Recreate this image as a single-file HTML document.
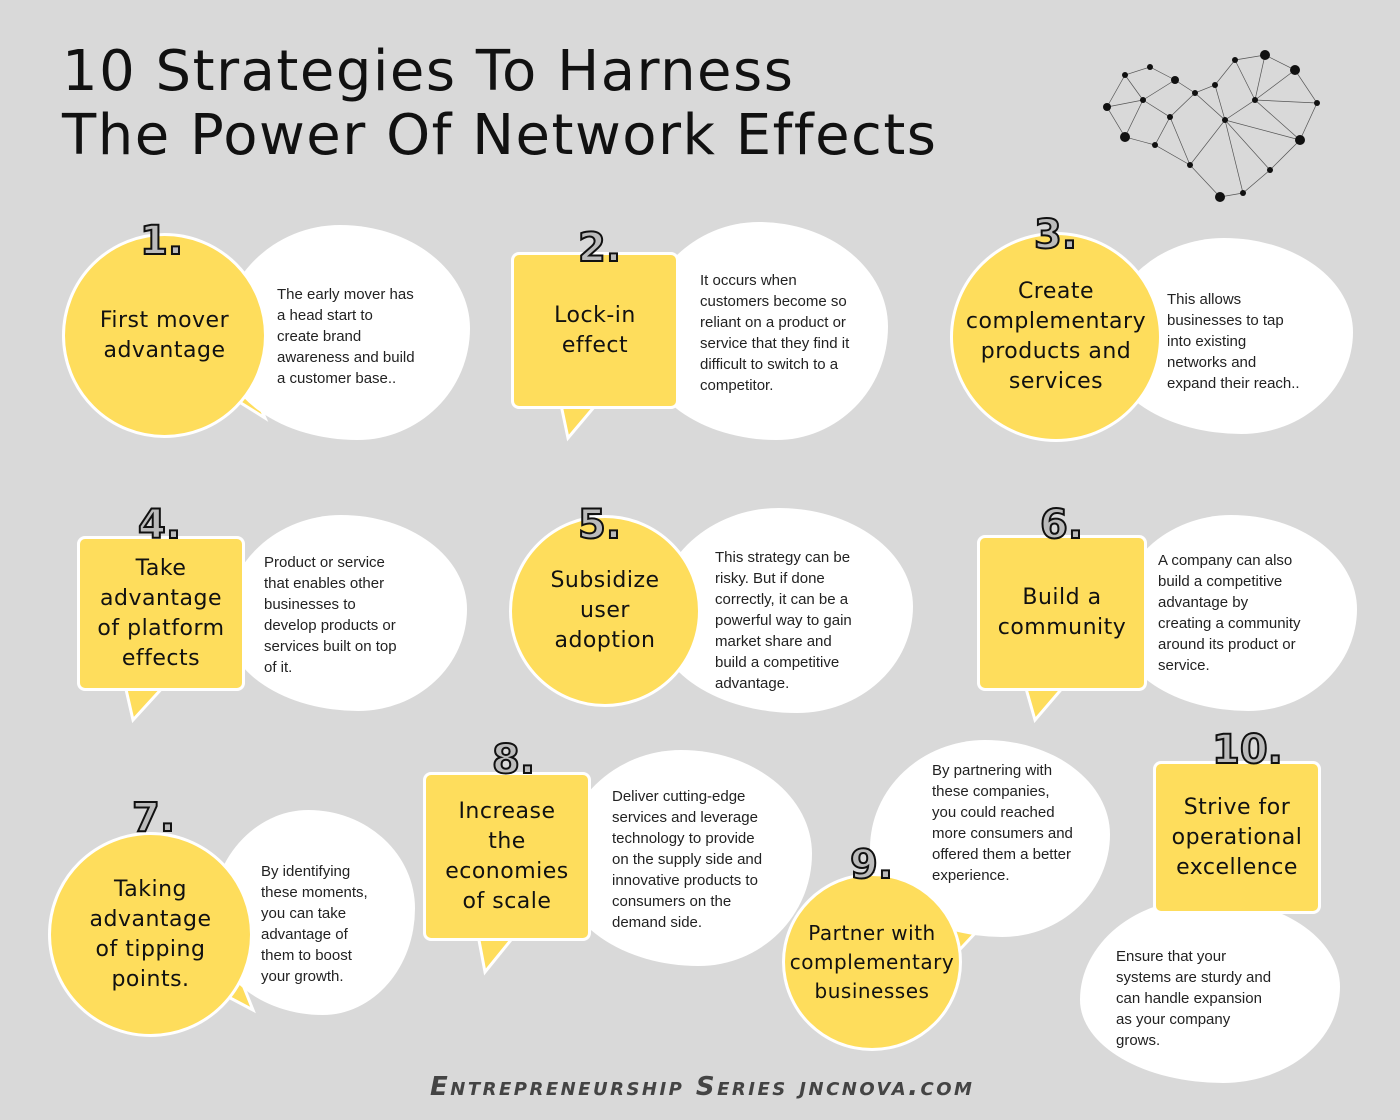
<!DOCTYPE html>
<html><head><meta charset="utf-8"><style>
body{margin:0;width:1400px;height:1120px;background:#d9d9d9;position:relative;overflow:hidden;font-family:"Liberation Sans",sans-serif}
.abs{position:absolute}
.blob{position:absolute;background:#fff;border-radius:48% 52% 45% 55% / 55% 48% 52% 45%}
.y{position:absolute;background:#fedd5c;border:3px solid #fff;box-sizing:border-box;display:flex;align-items:center;justify-content:center;text-align:center;font-family:"DejaVu Sans",sans-serif;font-size:22px;line-height:30px;color:#111;letter-spacing:0.5px}
.c{border-radius:50%}
.r{border-radius:8px}
.t{position:absolute;font-size:15px;line-height:21px;color:#222}
.n{position:absolute;font-family:"DejaVu Sans",sans-serif;font-size:40px;font-weight:bold;color:#bbb;-webkit-text-stroke:2px #111}
svg.tail{position:absolute;left:0;top:0;overflow:visible}
h1{position:absolute;left:62px;top:40px;margin:0;font-family:"DejaVu Sans",sans-serif;font-weight:normal;font-size:56px;line-height:64px;color:#111;letter-spacing:1.5px}
</style></head><body>
<h1>10 Strategies To Harness<br>The Power Of Network Effects</h1>

<svg class="abs" style="left:1095px;top:45px" width="235" height="160" viewBox="0 0 235 160">
<g stroke="#555" stroke-width="0.7" fill="none">
<path d="M12 62 L30 30 L55 22 L80 35 L100 48 L120 40 L140 15 L170 10 L200 25 L222 58 L205 95 L175 125 L148 148 L125 152 L95 120 L60 100 L30 92 Z"/>
<path d="M30 30 L48 55 L80 35 M48 55 L75 72 L100 48 M75 72 L95 120 M120 40 L130 75 L100 48 M130 75 L160 55 L170 10 M160 55 L200 25 M160 55 L205 95 L130 75 L148 148 M175 125 L130 75 M60 100 L75 72 M12 62 L48 55 L30 92 M140 15 L160 55 M222 58 L160 55 M95 120 L130 75"/>
</g>
<g fill="#111">
<circle cx="12" cy="62" r="4"/><circle cx="30" cy="30" r="3"/><circle cx="55" cy="22" r="3"/><circle cx="80" cy="35" r="4"/><circle cx="100" cy="48" r="3"/><circle cx="120" cy="40" r="3"/><circle cx="140" cy="15" r="3"/><circle cx="170" cy="10" r="5"/><circle cx="200" cy="25" r="5"/><circle cx="222" cy="58" r="3"/><circle cx="205" cy="95" r="5"/><circle cx="175" cy="125" r="3"/><circle cx="148" cy="148" r="3"/><circle cx="125" cy="152" r="5"/><circle cx="95" cy="120" r="3"/><circle cx="60" cy="100" r="3"/><circle cx="30" cy="92" r="5"/><circle cx="48" cy="55" r="3"/><circle cx="75" cy="72" r="3"/><circle cx="130" cy="75" r="3"/><circle cx="160" cy="55" r="3"/>
</g></svg>

<svg class="tail" width="1400" height="1120">
<g fill="#fedd5c" stroke="#fff" stroke-width="3">
<polygon points="220,390 265,418 245,372"/>
<polygon points="560,400 568,438 600,400"/>
<polygon points="1120,390 1160,408 1135,370"/>
<polygon points="125,685 133,720 165,685"/>
<polygon points="670,640 708,668 680,610"/>
<polygon points="1025,685 1035,720 1065,685"/>
<polygon points="215,990 253,1010 235,965"/>
<polygon points="478,935 485,972 515,935"/>
<polygon points="940,920 980,928 950,960"/>
<polygon points="1215,905 1238,945 1258,905"/>
</g></svg>

<div class="blob" style="left:220px;top:225px;width:250px;height:215px"></div>
<div class="y c" style="left:62px;top:233px;width:205px;height:205px">First mover<br>advantage</div>
<div class="n" style="left:140px;top:218px">1.</div>
<div class="t" style="left:277px;top:284px">The early mover has<br>a head start to<br>create brand<br>awareness and build<br>a customer base..</div>

<div class="blob" style="left:640px;top:222px;width:248px;height:218px"></div>
<div class="y r" style="left:511px;top:252px;width:168px;height:157px">Lock-in<br>effect</div>
<div class="n" style="left:578px;top:225px">2.</div>
<div class="t" style="left:700px;top:270px">It occurs when<br>customers become so<br>reliant on a product or<br>service that they find it<br>difficult to switch to a<br>competitor.</div>

<div class="blob" style="left:1105px;top:238px;width:248px;height:196px"></div>
<div class="y c" style="left:950px;top:232px;width:212px;height:210px">Create<br>complementary<br>products and<br>services</div>
<div class="n" style="left:1034px;top:212px">3.</div>
<div class="t" style="left:1167px;top:289px">This allows<br>businesses to tap<br>into existing<br>networks and<br>expand their reach..</div>

<div class="blob" style="left:225px;top:515px;width:242px;height:196px"></div>
<div class="y r" style="left:77px;top:536px;width:168px;height:155px">Take<br>advantage<br>of platform<br>effects</div>
<div class="n" style="left:138px;top:502px">4.</div>
<div class="t" style="left:264px;top:552px">Product or service<br>that enables other<br>businesses to<br>develop products or<br>services built on top<br>of it.</div>

<div class="blob" style="left:655px;top:508px;width:258px;height:205px"></div>
<div class="y c" style="left:509px;top:515px;width:192px;height:192px">Subsidize<br>user<br>adoption</div>
<div class="n" style="left:578px;top:502px">5.</div>
<div class="t" style="left:715px;top:547px">This strategy can be<br>risky. But if done<br>correctly, it can be a<br>powerful way to gain<br>market share and<br>build a competitive<br>advantage.</div>

<div class="blob" style="left:1115px;top:515px;width:242px;height:196px"></div>
<div class="y r" style="left:977px;top:535px;width:170px;height:156px">Build a<br>community</div>
<div class="n" style="left:1040px;top:502px">6.</div>
<div class="t" style="left:1158px;top:550px">A company can also<br>build a competitive<br>advantage by<br>creating a community<br>around its product or<br>service.</div>

<div class="blob" style="left:210px;top:810px;width:205px;height:205px"></div>
<div class="y c" style="left:48px;top:832px;width:205px;height:205px">Taking<br>advantage<br>of tipping<br>points.</div>
<div class="n" style="left:132px;top:795px">7.</div>
<div class="t" style="left:261px;top:861px">By identifying<br>these moments,<br>you can take<br>advantage of<br>them to boost<br>your growth.</div>

<div class="blob" style="left:560px;top:750px;width:252px;height:216px"></div>
<div class="y r" style="left:423px;top:772px;width:168px;height:169px">Increase<br>the<br>economies<br>of scale</div>
<div class="n" style="left:492px;top:737px">8.</div>
<div class="t" style="left:612px;top:786px">Deliver cutting-edge<br>services and leverage<br>technology to provide<br>on the supply side and<br>innovative products to<br>consumers on the<br>demand side.</div>

<div class="blob" style="left:870px;top:740px;width:240px;height:197px"></div>
<div class="y c" style="left:782px;top:873px;width:180px;height:178px;font-size:20px;line-height:29px">Partner with<br>complementary<br>businesses</div>
<div class="n" style="left:850px;top:842px">9.</div>
<div class="t" style="left:932px;top:760px">By partnering with<br>these companies,<br>you could reached<br>more consumers and<br>offered them a better<br>experience.</div>

<div class="blob" style="left:1080px;top:898px;width:260px;height:185px"></div>
<div class="y r" style="left:1153px;top:761px;width:168px;height:153px">Strive for<br>operational<br>excellence</div>
<div class="n" style="left:1212px;top:727px">10.</div>
<div class="t" style="left:1116px;top:946px">Ensure that your<br>systems are sturdy and<br>can handle expansion<br>as your company<br>grows.</div>

<div class="abs" style="left:430px;top:1072px;font-family:'DejaVu Sans',sans-serif;font-weight:bold;font-style:italic;font-size:26px;color:#444;letter-spacing:2.5px;font-variant:small-caps">Entrepreneurship Series jncnova.com</div>
</body></html>
